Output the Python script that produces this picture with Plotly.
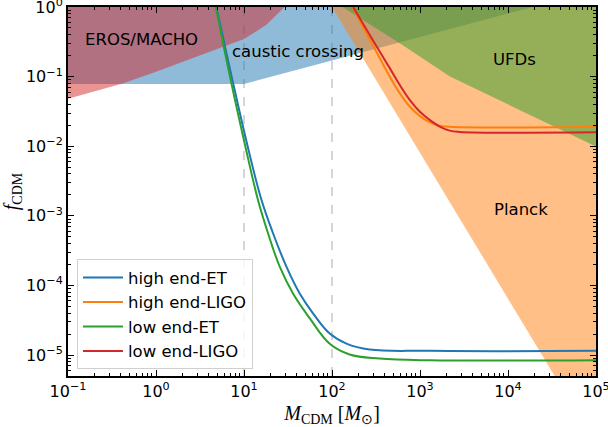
import numpy as np
import plotly.graph_objects as go

# ---------------- data ----------------
# constraint regions (boundary curves, mass in M_sun, f_CDM)
caustic_m = [0.1, 10.0, 19000.0]
caustic_f = [0.0785, 0.0785, 1.0]

eros_m = [0.1, 0.417, 1.0, 3.16, 10.0, 18.0, 28.8]
eros_f = [0.048, 0.0794, 0.1175, 0.1995, 0.347, 0.556, 1.0]

planck_m = [100.0, 33900.0]
planck_f = [1.0, 5e-6]

ufd_m = [132.0, 589.0, 2188.0, 1e5]
ufd_f = [1.0, 0.302, 0.1, 0.0099]

# forecast curves
he_et_m = [4.85, 7.24, 11.0, 15.78, 21.38, 30.34, 42.95, 60.81, 94.19, 145.9, 267.9, 1288.0, 1e5]
he_et_f = [1.0, 0.1, 1.0e-2, 1.698e-3, 5.62e-4, 1.862e-4, 7.67e-5, 3.98e-5, 2.04e-5, 1.462e-5, 1.202e-5, 1.148e-5, 1.148e-5]

le_et_m = [4.79, 6.93, 10.35, 14.42, 18.75, 25.47, 36.06, 55.72, 94.19, 158.5, 346.7, 1288.0, 1e5]
le_et_f = [1.0, 0.1, 1.0e-2, 1.687e-3, 5.62e-4, 1.862e-4, 7.67e-5, 3.39e-5, 1.45e-5, 1.02e-5, 8.91e-6, 8.41e-6, 8.45e-6]

he_ligo_m = [170.6, 246.0, 348.3, 452.9, 587.5, 763.8, 990.8, 1288.0, 1675.0, 2173.0, 1e5]
he_ligo_f = [1.0, 0.42, 0.1845, 0.1002, 0.0579, 0.03715, 0.02729, 0.02213, 0.01977, 0.01897, 0.0190]

le_ligo_m = [173.4, 245.5, 348.3, 452.9, 587.5, 763.8, 990.8, 1288.0, 1675.0, 2173.0, 2825.0, 1e5]
le_ligo_f = [1.0, 0.4786, 0.2296, 0.1324, 0.0762, 0.04634, 0.03148, 0.02388, 0.01914, 0.01675, 0.01607, 0.01585]

series_names = ["high end-ET", "high end-LIGO", "low end-ET", "low end-LIGO"]

vline_m = [10.0, 100.0]

region_labels = ["EROS/MACHO", "caustic crossing", "UFDs", "Planck"]
label_m = [0.687, 40.7, 11900.0, 14060.0]
label_f = [0.344, 0.228, 0.175, 1.25e-3]

x_range = [0.1, 1e5]
y_range = [5e-6, 1.0]
x_ticks = [0.1, 1, 10, 100, 1000, 10000, 100000]
x_ticktext = ["10<sup>\u22121</sup>", "10<sup>0</sup>", "10<sup>1</sup>", "10<sup>2</sup>",
              "10<sup>3</sup>", "10<sup>4</sup>", "10<sup>5</sup>"]
y_ticks = [1e-5, 1e-4, 1e-3, 1e-2, 1e-1, 1]
y_ticktext = ["10<sup>\u22125</sup>", "10<sup>\u22124</sup>", "10<sup>\u22123</sup>",
              "10<sup>\u22122</sup>", "10<sup>\u22121</sup>", "10<sup>0</sup>"]

# ---------------- figure ----------------
C_BLUE, C_ORANGE, C_GREEN, C_RED = "#1f77b4", "#ff7f0e", "#2ca02c", "#d62728"
TXT = "DejaVu Sans"

fig = go.Figure()

for xv in vline_m:
    fig.add_trace(go.Scatter(x=[xv, xv], y=y_range, mode="lines",
                             line=dict(color="#c8c8c8", width=1.5, dash="dash"),
                             showlegend=False, hoverinfo="skip"))

def region(mx, fy, xclose, yclose, color):
    fig.add_trace(go.Scatter(x=list(mx) + xclose, y=list(fy) + yclose, mode="lines",
                             fill="toself", fillcolor=color, line=dict(width=0),
                             showlegend=False, hoverinfo="skip"))

region(caustic_m, caustic_f, [x_range[0]], [y_range[1]], "rgba(31,119,180,0.5)")
region(eros_m, eros_f, [x_range[0]], [y_range[1]], "rgba(214,39,40,0.5)")
region(planck_m, planck_f, [x_range[1], x_range[1]], [y_range[0], y_range[1]], "rgba(255,127,14,0.5)")
region(ufd_m, ufd_f, [x_range[1]], [y_range[1]], "rgba(44,160,44,0.5)")

curves = [(he_et_m, he_et_f, C_BLUE), (he_ligo_m, he_ligo_f, C_ORANGE),
          (le_et_m, le_et_f, C_GREEN), (le_ligo_m, le_ligo_f, C_RED)]
for (mx, fy, col), nm in zip(curves, series_names):
    fig.add_trace(go.Scatter(x=mx, y=fy, mode="lines", name=nm,
                             line=dict(color=col, width=2, shape="spline", smoothing=1.1)))

for t, mx, fy in zip(region_labels, label_m, label_f):
    fig.add_annotation(x=np.log10(mx), y=np.log10(fy), text=t, showarrow=False,
                       font=dict(family=TXT, size=16.5, color="black"))

minor_x = [k * 10.0 ** e for e in range(-1, 5) for k in range(2, 10)]
minor_y = [k * 10.0 ** e for e in range(-6, 0) for k in range(2, 10)]

axis_common = dict(showline=True, linecolor="black", linewidth=2, mirror="ticks",
                   ticks="inside", ticklen=6, tickwidth=1.3, tickcolor="black",
                   showgrid=False, zeroline=False, automargin=False,
                   ticklabeloverflow="allow",
                   tickfont=dict(family=TXT, size=16, color="black"))

fig.update_xaxes(type="log", range=[np.log10(x_range[0]), np.log10(x_range[1])],
                 tickmode="array", tickvals=x_ticks, ticktext=x_ticktext,
                 minor=dict(tickmode="array", tickvals=minor_x, ticks="inside",
                            ticklen=3, tickwidth=1, tickcolor="black", showgrid=False),
                 title=dict(text="<i>M</i><sub>CDM</sub> [<i>M</i><sub>\u2299</sub>]",
                            font=dict(family="Liberation Serif", size=20, color="black"),
                            standoff=6),
                 **axis_common)
fig.update_yaxes(type="log", range=[np.log10(y_range[0]), np.log10(y_range[1])],
                 tickmode="array", tickvals=y_ticks, ticktext=y_ticktext,
                 minor=dict(tickmode="array", tickvals=minor_y, ticks="inside",
                            ticklen=3, tickwidth=1, tickcolor="black", showgrid=False),
                 title=dict(text="<i>f</i><sub>CDM</sub>",
                            font=dict(family="Liberation Serif", size=20, color="black"),
                            standoff=8),
                 **axis_common)

fig.update_layout(
    width=608, height=427,
    margin=dict(l=68, r=12, t=7, b=51),
    paper_bgcolor="white", plot_bgcolor="white",
    font=dict(family=TXT, size=16, color="black"),
    legend=dict(x=0.017, y=0.018, xanchor="left", yanchor="bottom",
                bgcolor="rgba(255,255,255,0.8)", bordercolor="#d0d0d0", borderwidth=1,
                font=dict(family=TXT, size=16.5, color="black"),
                itemwidth=40, tracegroupgap=2),
)

fig.write_html("out.html", config={"displayModeBar": False},
               post_script="document.body.style.margin='0';")
